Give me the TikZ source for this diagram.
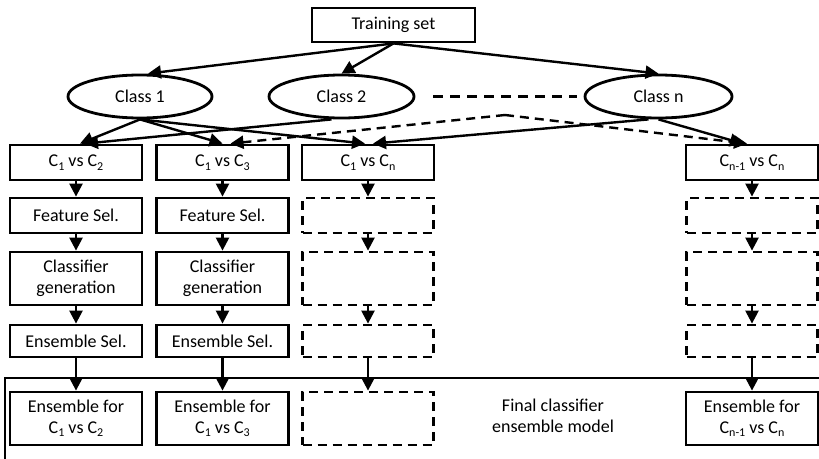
\documentclass[tikz,border=0pt]{standalone}
\usepackage{fontspec}
\setmainfont{Carlito}
\usetikzlibrary{arrows.meta,shapes.geometric}
\newcommand{\lsub}[1]{\raisebox{-0.4ex}{\fontsize{12}{12}\selectfont #1}}
\begin{document}
\begin{tikzpicture}[x=1pt,y=-1pt,
  every node/.style={font=\fontsize{18}{21}\selectfont, align=center, inner sep=0pt},
  box/.style={draw, line width=2.8pt, rectangle, minimum width=132pt},
  dbox/.style={draw, line width=2.8pt, rectangle, minimum width=131pt, dash pattern=on 9pt off 6pt},
  cls/.style={draw, line width=2.8pt, ellipse, minimum height=43pt},
  arr/.style={line width=2.4pt, -{Triangle[length=13pt,width=13pt]}},
  darr/.style={arr, dash pattern=on 9pt off 6pt}
]
\useasboundingbox (0,0) rectangle (819,458);
\clip (0,0) rectangle (819,458);
% final frame
\draw[line width=2.2pt] (5,470) |- (830,378);
\node (final) at (553,416) {Final classifier\\ensemble model};
% top
\node[box, minimum width=163pt, minimum height=34pt] (train) at (393.5,25) {Training set};
\node[cls, minimum width=144pt] (c1) at (140,96.5) {Class 1};
\node[cls, minimum width=145pt] (c2) at (341.5,96.5) {Class 2};
\node[cls, minimum width=147pt] (cn) at (658.5,96.5) {Class n};
\coordinate (dl) at (433,96.5);
\coordinate (dr) at (577,96.5);
\coordinate (dm) at (505,115);
\draw[line width=2.6pt, dash pattern=on 10pt off 7pt] (dl) -- (dr);
% row 1
\node[box, minimum height=35pt] (p12) at (76,162.5) {C\lsub{1} vs C\lsub{2}};
\node[box, minimum height=35pt] (p13) at (222.5,162.5) {C\lsub{1} vs C\lsub{3}};
\node[box, minimum height=35pt] (p1n) at (368,162.5) {C\lsub{1} vs C\lsub{n}};
\node[box, minimum height=35pt] (pnn) at (752,162.5) {C\lsub{n-1} vs C\lsub{n}};
% row 2
\node[box, minimum height=35pt] (f1) at (76,215.5) {Feature Sel.};
\node[box, minimum height=35pt] (f2) at (222.5,215.5) {Feature Sel.};
\node[dbox, minimum height=35pt] (f3) at (368,215.5) {};
\node[dbox, minimum height=35pt] (f4) at (752,215.5) {};
% row 3
\node[box, minimum height=53pt] (g1) at (76,278.5) {Classifier\\generation};
\node[box, minimum height=53pt] (g2) at (222.5,278.5) {Classifier\\generation};
\node[dbox, minimum height=53pt] (g3) at (368,278.5) {};
\node[dbox, minimum height=53pt] (g4) at (752,278.5) {};
% row 4
\node[box, minimum height=32pt] (s1) at (76,341) {Ensemble Sel.};
\node[box, minimum height=32pt] (s2) at (222.5,341) {Ensemble Sel.};
\node[dbox, minimum height=32pt] (s3) at (368,341) {};
\node[dbox, minimum height=32pt] (s4) at (752,341) {};
% row 5
\node[box, minimum height=53pt] (e1) at (76,418.5) {Ensemble for\\C\lsub{1} vs C\lsub{2}};
\node[box, minimum height=53pt] (e2) at (222.5,418.5) {Ensemble for\\C\lsub{1} vs C\lsub{3}};
\node[dbox, minimum height=53pt] (e3) at (368,418.5) {};
\node[box, minimum height=53pt] (e4) at (752,418.5) {Ensemble for\\C\lsub{n-1} vs C\lsub{n}};
% top arrows
\draw[arr] (train.south) -- ([xshift=8pt]c1.north);
\draw[arr] (train.south) -- (c2.north);
\draw[arr] (train.south) -- (cn.north);
\draw[arr] (c1.south) -- ([xshift=4pt]p12.north);
\draw[arr] (c1.south) -- (p13.north);
\draw[arr] (c1.south) -- ([xshift=-3pt]p1n.north);
\draw[arr] ([xshift=-10pt]c2.south) -- ([xshift=9pt]p12.north);
\draw[darr] (dm) -- ([xshift=8pt]p13.north);
\draw[arr] ([xshift=-10pt]cn.south) -- ([xshift=5pt]p1n.north);
\draw[arr] (cn.south) -- ([xshift=-9pt]pnn.north);
\draw[darr] (dm) -- ([xshift=-5pt]pnn.north);
% column arrows
\foreach \a/\b in {p12/f1,f1/g1,g1/s1,s1/e1,p13/f2,f2/g2,g2/s2,s2/e2,p1n/f3,f3/g3,g3/s3,s3/e3,pnn/f4,f4/g4,g4/s4,s4/e4}
  \draw[arr] (\a.south) -- (\b.north);
\end{tikzpicture}
\end{document}
